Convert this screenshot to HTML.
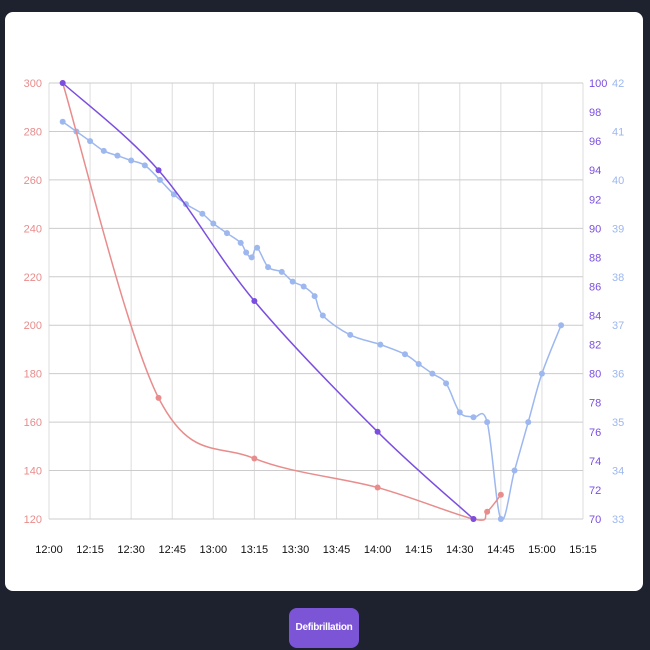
<!DOCTYPE html>
<html><head><meta charset="utf-8"><style>
body{margin:0;width:650px;height:650px;background:#1d222e;overflow:hidden;font-family:"Liberation Sans",sans-serif;position:relative}
#card{position:absolute;left:5px;top:12px;width:638px;height:579px;background:#fff;border-radius:8px}
#btn{position:absolute;left:289px;top:608px;width:70px;height:40px;background:#7b55d6;border-radius:8px;color:#fff;font-size:10px;font-weight:bold;line-height:40px;text-align:center;border:none;padding:0;font-family:"Liberation Sans",sans-serif;letter-spacing:-0.3px}
svg{position:absolute;left:0;top:0}
</style></head><body>
<div id="card"></div>
<svg id="chart" width="650" height="650"></svg>
<button id="btn">Defibrillation</button>
<script>
const xTicks=["12:00","12:15","12:30","12:45","13:00","13:15","13:30","13:45","14:00","14:15","14:30","14:45","15:00","15:15"];
const leftTicks=[120,140,160,180,200,220,240,260,280,300];
const purpleTicks=[70,72,74,76,78,80,82,84,86,88,90,92,94,96,98,100];
const blueTicks=[33,34,35,36,37,38,39,40,41,42];
const redT=[5,40,75,120,155,160,165];
const redV=[300,170,145,133,120,123,130];
const purT=[5,40,75,120,155];
const purV=[100,94,85,76,70];
const bluT=[5,10,15,20,25,30,35,40.5,45.6,50,56,60,65,70,72,74,76,80,85,89,93,97,100,110,121,130,135,140,145,150,155,160,165,170,175,180,187];
const bluV=[41.2,41,40.8,40.6,40.5,40.4,40.3,40,39.7,39.5,39.3,39.1,38.9,38.7,38.5,38.4,38.6,38.2,38.1,37.9,37.8,37.6,37.2,36.8,36.6,36.4,36.2,36,35.8,35.2,35.1,35,33,34,35,36,37];
const X0=49,X1=583,Y0=519,Y1=83;
const x=m=>X0+(m/195)*(X1-X0);
const yL=v=>Y0-(v-120)/180*(Y0-Y1);
const yP=v=>Y0-(v-70)/30*(Y0-Y1);
const yB=v=>Y0-(v-33)/9*(Y0-Y1);
const svg=document.getElementById('chart');const NS='http://www.w3.org/2000/svg';
function mk(t,a,p){const e=document.createElementNS(NS,t);for(const k in a)e.setAttribute(k,a[k]);(p||svg).appendChild(e);return e;}
const grid=mk('g',{});
xTicks.forEach((t,i)=>{const xx=x(i*15);mk('line',{x1:xx,x2:xx,y1:Y1,y2:Y0,stroke:'#ddd','stroke-width':1},grid);
const tx=mk('text',{x:xx,y:553,'font-size':11,'text-anchor':'middle',fill:'#111'});tx.textContent=t;
});
leftTicks.forEach(v=>{mk('line',{x1:X0,x2:X1,y1:yL(v),y2:yL(v),stroke:'#ccc','stroke-width':1},grid);
const tx=mk('text',{x:42,y:yL(v)+4,'font-size':11,'text-anchor':'end',fill:'#e88c8c'});tx.textContent=v;
});
purpleTicks.forEach(v=>{const tx=mk('text',{x:589,y:yP(v)+4,'font-size':11,fill:'#7b4ee0'});tx.textContent=v;
});
blueTicks.forEach(v=>{const tx=mk('text',{x:612,y:yB(v)+4,'font-size':11,fill:'#9db7ef'});tx.textContent=v;
});
function path(pts){let d='M'+pts[0][0]+','+pts[0][1];const k=0.4/2;
for(let i=0;i<pts.length-1;i++){const p0=pts[i-1]||pts[i],p1=pts[i],p2=pts[i+1],p3=pts[i+2]||p2;
d+=' C'+(p1[0]+(p2[0]-p0[0])*k/1.2)+','+(p1[1]+(p2[1]-p0[1])*k/1.2)+' '+(p2[0]-(p3[0]-p1[0])*k/1.2)+','+(p2[1]-(p3[1]-p1[1])*k/1.2)+' '+p2[0]+','+p2[1];}return d;}
function series(T,V,yf,col,name){const g=mk('g',{});
const pts=T.map((t,i)=>[x(t),yf(V[i])]);
mk('path',{d:path(pts),fill:'none',stroke:col,'stroke-width':1.5},g);
pts.forEach(p=>{const c=mk('circle',{cx:p[0],cy:p[1],r:3,fill:col},g);});}
series(bluT,bluV,yB,'#9db7ef','temperature-series');
series(redT,redV,yL,'#e88c8c','red-series');
series(purT,purV,yP,'#7b4ee0','purple-series');
</script>
</body></html>
